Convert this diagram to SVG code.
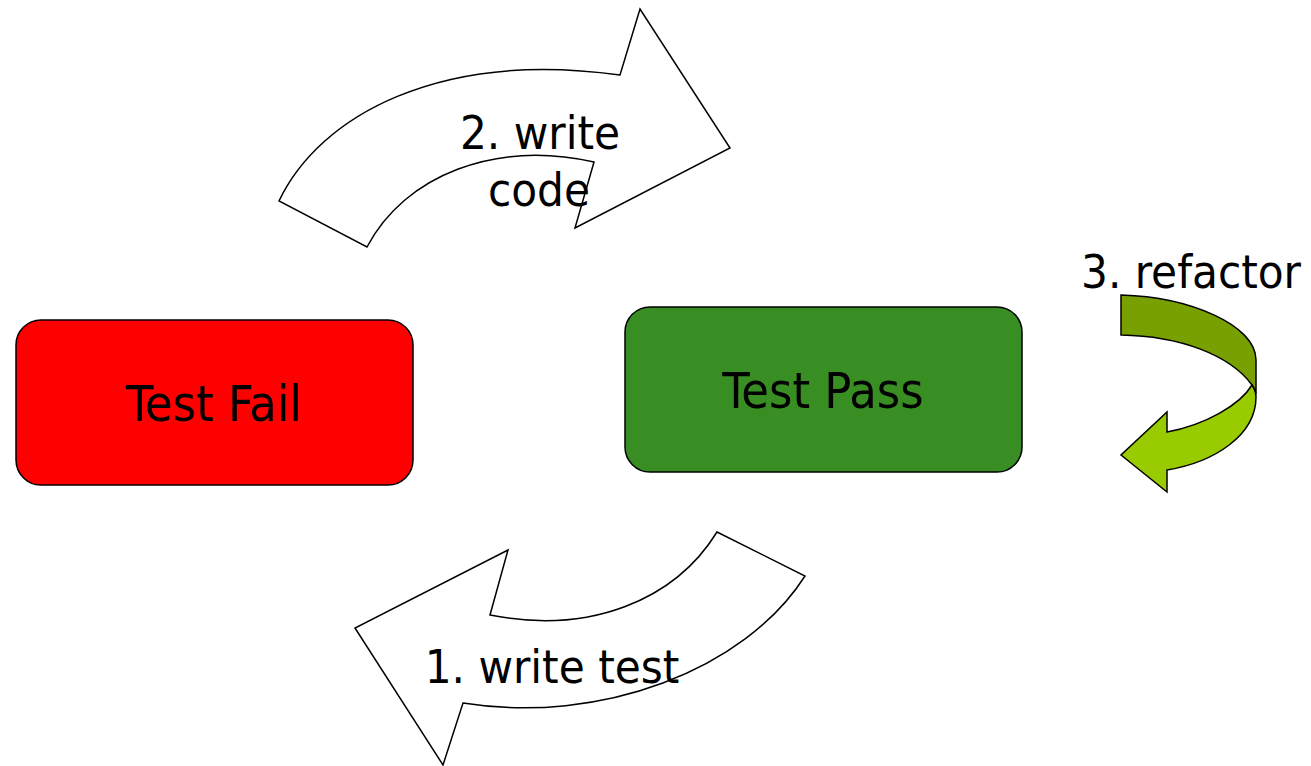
<svg xmlns="http://www.w3.org/2000/svg" width="1311" height="766" viewBox="0 0 1311 766">
<style>
.lbl{font-family:'DejaVu Sans Condensed','DejaVu Sans',sans-serif;font-stretch:condensed;font-size:47px;fill:#000;text-anchor:middle}
.nt{font-size:50px}
.box{stroke:#000;stroke-width:1.5}
.arr{fill:#fff;stroke:#000;stroke-width:1.5;stroke-linejoin:miter}
</style>
<rect width="1311" height="766" fill="#fff"/>
<g id="connectors">
  <g id="write-code">
    <path class="arr" d="M 279,201 C 320,115 440,50 620,75 L 640,9 L 730,148 L 575,228 L 594,162 C 495,140 405,175 367,247 Z"/>
    <text class="lbl" x="540" y="149">2. write</text>
    <text class="lbl" x="539" y="206">code</text>
  </g>
  <g id="write-test">
    <path class="arr" d="M 717,532 L 805,576 C 745,670 600,725 463,703 L 443,765 L 355,628 L 508,550 L 490,615 C 590,635 675,600 717,532 Z"/>
    <text class="lbl" x="552" y="683">1. write test</text>
  </g>
  <g id="refactor">
    <path fill="#78A000" stroke="#000" stroke-width="1.5" d="M 1121,295 C 1190,297 1256,325 1256,360 L 1256,392 L 1252,385 C 1230,355 1180,336 1121,335 Z"/>
    <path fill="#99CC00" stroke="#000" stroke-width="1.5" d="M 1252,385 C 1254,388 1256,391 1256,397 C 1256,435 1215,462 1167,470 L 1167,492 L 1121,455 L 1167,412 L 1167,432 C 1205,425 1240,405 1252,385 Z"/>
    <text class="lbl" x="1191" y="288">3. refactor</text>
  </g>
</g>
<g id="test-fail">
  <rect class="box" x="16" y="320" width="397" height="165" rx="25" fill="#FF0000"/>
  <text class="lbl nt" x="214" y="421">Test Fail</text>
</g>
<g id="test-pass">
  <rect class="box" x="625" y="307" width="397" height="165" rx="25" fill="#388E23"/>
  <text class="lbl nt" x="823" y="408">Test Pass</text>
</g>
</svg>
